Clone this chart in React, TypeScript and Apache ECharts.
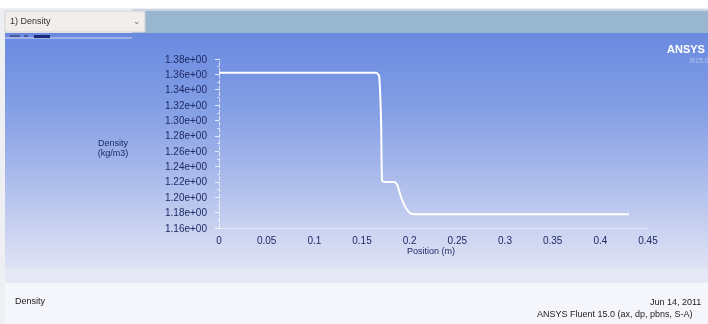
import React, { useEffect, useRef } from "react";
import * as echarts from "echarts";

const positions = [0, 0.05, 0.1, 0.15, 0.165, 0.168, 0.17, 0.171, 0.173, 0.184, 0.187, 0.191, 0.196, 0.201, 0.206, 0.3, 0.43];
const densities = [1.362, 1.362, 1.362, 1.362, 1.362, 1.358, 1.3, 1.222, 1.22, 1.22, 1.216, 1.2, 1.186, 1.179, 1.178, 1.178, 1.178];
const yTicks = { min: 1.16, max: 1.38, step: 0.02 };
const xTicks = { min: 0, max: 0.45, step: 0.05 };

const FONT = "Liberation Sans, Arial, sans-serif";
const LABEL = "#1e2a66";

export default function App() {
  const ref = useRef<HTMLDivElement>(null);
  useEffect(() => {
    const chart = echarts.init(ref.current!, null, { renderer: "svg" });
    const data = positions.map((p, i) => [p, densities[i]]);
    chart.setOption({
      animation: false,
      graphic: [
        { type: "rect", z: -10, shape: { x: 0, y: 0, width: 708, height: 324 }, style: { fill: "#ffffff" } },
        { type: "rect", z: -9, shape: { x: 0, y: 8, width: 708, height: 316 }, style: { fill: "#eeeff2" } },
        { type: "rect", z: -9, shape: { x: 132, y: 9, width: 576, height: 25 }, style: { fill: "#98b6cd" } },
        { type: "rect", z: -9, shape: { x: 132, y: 9, width: 576, height: 2 }, style: { fill: "#c7d6e2" } },
        {
          type: "rect", z: -8, shape: { x: 5, y: 33, width: 703, height: 236 },
          style: {
            fill: new echarts.graphic.LinearGradient(0, 0, 0, 1, [
              { offset: 0, color: "#6a8ae0" },
              { offset: 0.3, color: "#819de4" },
              { offset: 0.55, color: "#a2b4ea" },
              { offset: 0.85, color: "#ccd4f1" },
              { offset: 1, color: "#dfe3f5" },
            ]),
          },
        },
        { type: "rect", z: -8, shape: { x: 5, y: 269, width: 703, height: 14 }, style: { fill: "#e6e8f6" } },
        { type: "rect", z: -8, shape: { x: 5, y: 283, width: 703, height: 41 }, style: { fill: "#f5f6fb" } },
        // dropdown
        { type: "rect", z: -7, shape: { x: 5, y: 11, width: 140, height: 21 }, style: { fill: "#f1eeec", stroke: "#d0d2d8", lineWidth: 1 } },
        { type: "text", z: -6, x: 10, y: 16, style: { text: "1) Density", font: `9px ${FONT}`, fill: "#333" } },
        { type: "text", z: -6, x: 133, y: 16, style: { text: "⌄", font: `9px ${FONT}`, fill: "#777" } },
        { type: "rect", z: -7, shape: { x: 5, y: 37, width: 127, height: 2 }, style: { fill: "#9fb2e8" } },
        { type: "rect", z: -6, shape: { x: 10, y: 35, width: 10, height: 2 }, style: { fill: "#4a5a9a" } },
        { type: "rect", z: -6, shape: { x: 24, y: 35, width: 4, height: 2 }, style: { fill: "#4a5a9a" } },
        { type: "rect", z: -6, shape: { x: 34, y: 35, width: 16, height: 3 }, style: { fill: "#1e2a78" } },
        // ANSYS logo
        { type: "text", x: 667, y: 43, style: { text: "ANSYS", font: `bold 11px ${FONT}`, fill: "#ffffff" } },
        { type: "text", x: 690, y: 57, style: { text: "R15.0", font: `7px ${FONT}`, fill: "#b8c8f0" } },
        // axis titles
        { type: "text", x: 113, y: 138, style: { text: "Density", font: `9px ${FONT}`, fill: LABEL, align: "center" } },
        { type: "text", x: 113, y: 148, style: { text: "(kg/m3)", font: `9px ${FONT}`, fill: LABEL, align: "center" } },
        { type: "text", x: 431, y: 246, style: { text: "Position (m)", font: `9px ${FONT}`, fill: LABEL, align: "center" } },
        // footer
        { type: "text", x: 15, y: 296, style: { text: "Density", font: `9px ${FONT}`, fill: "#222" } },
        { type: "text", x: 650, y: 297, style: { text: "Jun 14, 2011", font: `9px ${FONT}`, fill: "#222" } },
        { type: "text", x: 537, y: 309, style: { text: "ANSYS Fluent 15.0 (ax, dp, pbns, S-A)", font: `9px ${FONT}`, fill: "#222" } },
      ],
      grid: { left: 219, right: 60, top: 59, bottom: 96, containLabel: false },
      xAxis: {
        type: "value",
        min: xTicks.min,
        max: xTicks.max,
        interval: xTicks.step,
        axisLine: { show: true, onZero: false, lineStyle: { color: "rgba(255,255,255,0.55)", width: 1 } },
        axisTick: { show: false },
        splitLine: { show: false },
        axisLabel: {
          margin: 7,
          fontSize: 10,
          fontFamily: FONT,
          color: LABEL,
          formatter: (v: number) => String(+v.toFixed(2)),
        },
      },
      yAxis: {
        type: "value",
        min: yTicks.min,
        max: yTicks.max,
        interval: yTicks.step,
        axisLine: { show: true, lineStyle: { color: "rgba(255,255,255,0.7)", width: 1, type: "dashed" } },
        axisTick: { show: true, length: 4, lineStyle: { color: "rgba(255,255,255,0.8)" } },
        minorTick: { show: true, splitNumber: 2, length: 2, lineStyle: { color: "rgba(255,255,255,0.6)" } },
        splitLine: { show: false },
        axisLabel: {
          margin: 12,
          fontSize: 10,
          fontFamily: FONT,
          color: LABEL,
          formatter: (v: number) => v.toFixed(2) + "e+00",
        },
      },
      series: [
        {
          type: "line",
          data,
          showSymbol: false,
          symbol: "none",
          smooth: 0.2,
          lineStyle: { color: "#ffffff", width: 2 },
        },
      ],
    });
    return () => chart.dispose();
  }, []);
  return <div ref={ref} style={{ position: "fixed", left: 0, top: 0, width: 708, height: 324 }} />;
}
